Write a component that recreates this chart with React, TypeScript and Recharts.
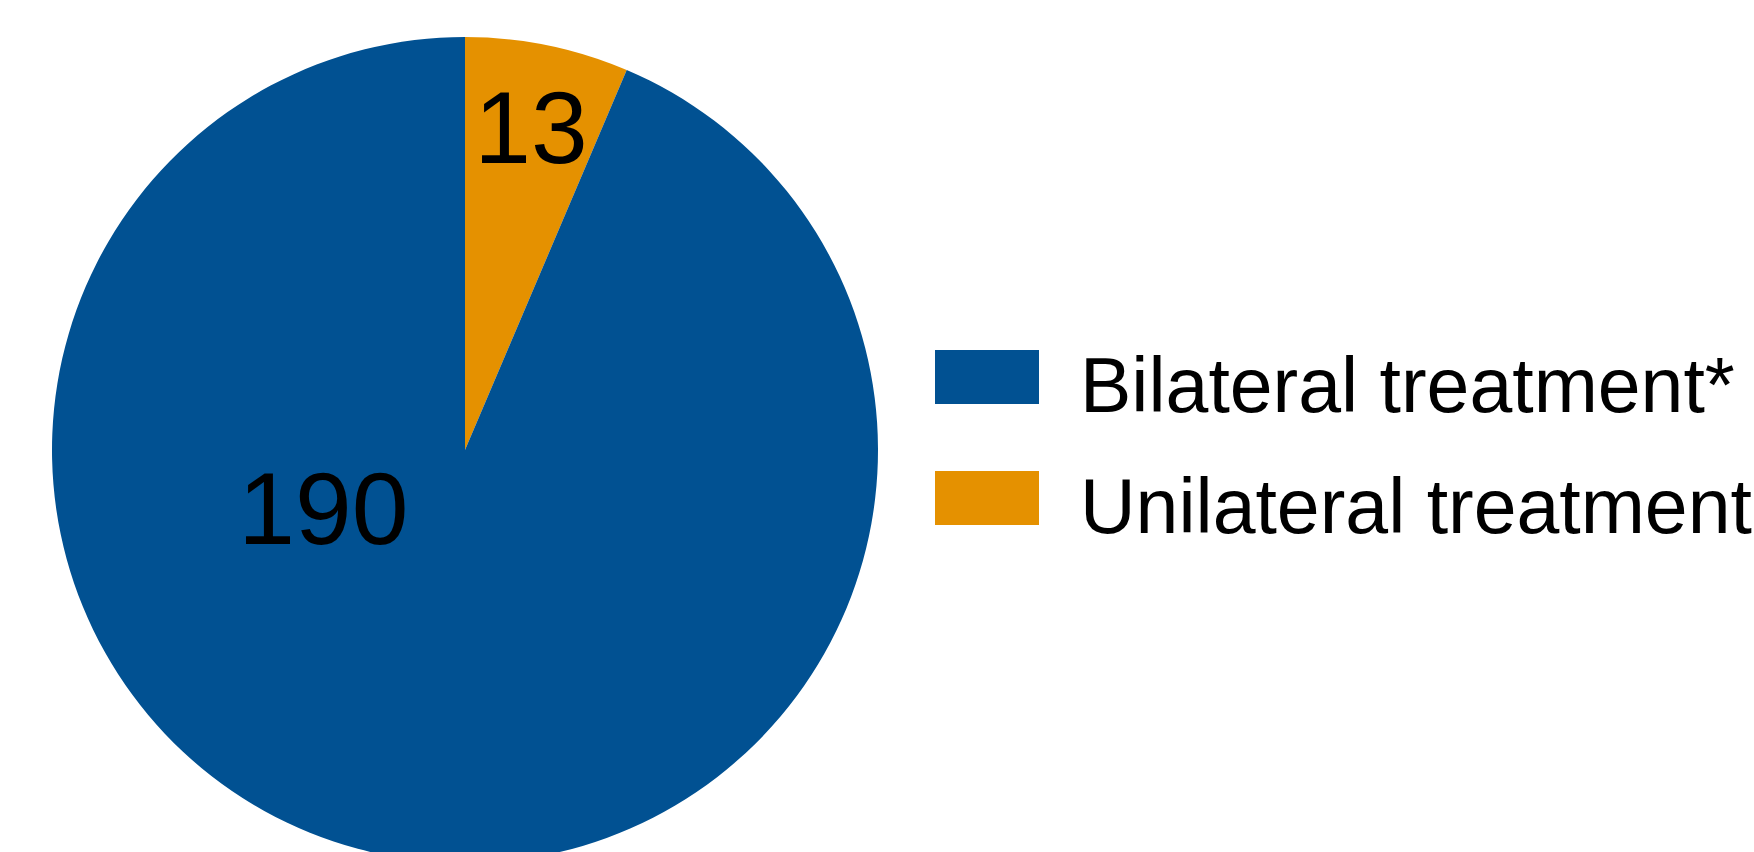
import React from 'react';
import { PieChart, Pie, Cell, Legend } from 'recharts';

const categories = ['Unilateral treatment', 'Bilateral treatment*'];
const values = [13, 190];
const legendOrder = ['Bilateral treatment*', 'Unilateral treatment'];

const COLORS: Record<string, string> = {
  'Unilateral treatment': '#E59100',
  'Bilateral treatment*': '#015192',
};

// label placement per slice: radius as fraction of outer radius, angle (null = slice mid angle)
const LABEL_PLACE: Record<string, { r: number; angle: number | null }> = {
  'Unilateral treatment': { r: 0.8, angle: null },
  'Bilateral treatment*': { r: 0.37, angle: 202 },
};

const FONT = '"Liberation Sans", Arial, Helvetica, sans-serif';
const RAD = Math.PI / 180;

const data = categories.map((name, i) => ({ name, value: values[i] }));

const renderLabel = (props: any) => {
  const { cx, cy, outerRadius, midAngle, name, value } = props;
  const place = LABEL_PLACE[name] || { r: 0.6, angle: null };
  const ang = place.angle == null ? midAngle : place.angle;
  const r = outerRadius * place.r;
  const x = cx + r * Math.cos(-ang * RAD);
  const y = cy + r * Math.sin(-ang * RAD);
  const fs = 102;
  return (
    <text
      x={x}
      y={y + fs * 0.358}
      textAnchor="middle"
      fill="#000"
      fontSize={fs}
      fontFamily={FONT}
    >
      {value}
    </text>
  );
};

const LegendBox = () => (
  <svg width={819} height={200} style={{ display: 'block', overflow: 'visible' }}>
    {legendOrder.map((name, i) => (
      <g key={name}>
        <rect x={0} y={i * 121} width={104} height={54} fill={COLORS[name]} />
        <text x={145} y={62 + i * 121} fontSize={77} fontFamily={FONT} fill="#000">
          {name}
        </text>
      </g>
    ))}
  </svg>
);

export default function App() {
  return (
    <div style={{ position: 'absolute', left: 0, top: 0, width: 1754, height: 852, overflow: 'hidden', background: '#fff' }}>
      <PieChart width={1754} height={852} margin={{ top: 0, right: 0, bottom: 0, left: 0 }}>
        <Pie
          data={data}
          dataKey="value"
          nameKey="name"
          cx={465}
          cy={450}
          outerRadius={413}
          startAngle={90}
          endAngle={-270}
          stroke="none"
          label={renderLabel}
          labelLine={false}
          isAnimationActive={false}
        >
          {data.map((entry) => (
            <Cell key={entry.name} fill={COLORS[entry.name]} />
          ))}
        </Pie>
        <Legend
          content={() => <LegendBox />}
          wrapperStyle={{ position: 'absolute', left: 935, top: 350, width: 819, height: 200 }}
        />
      </PieChart>
    </div>
  );
}
